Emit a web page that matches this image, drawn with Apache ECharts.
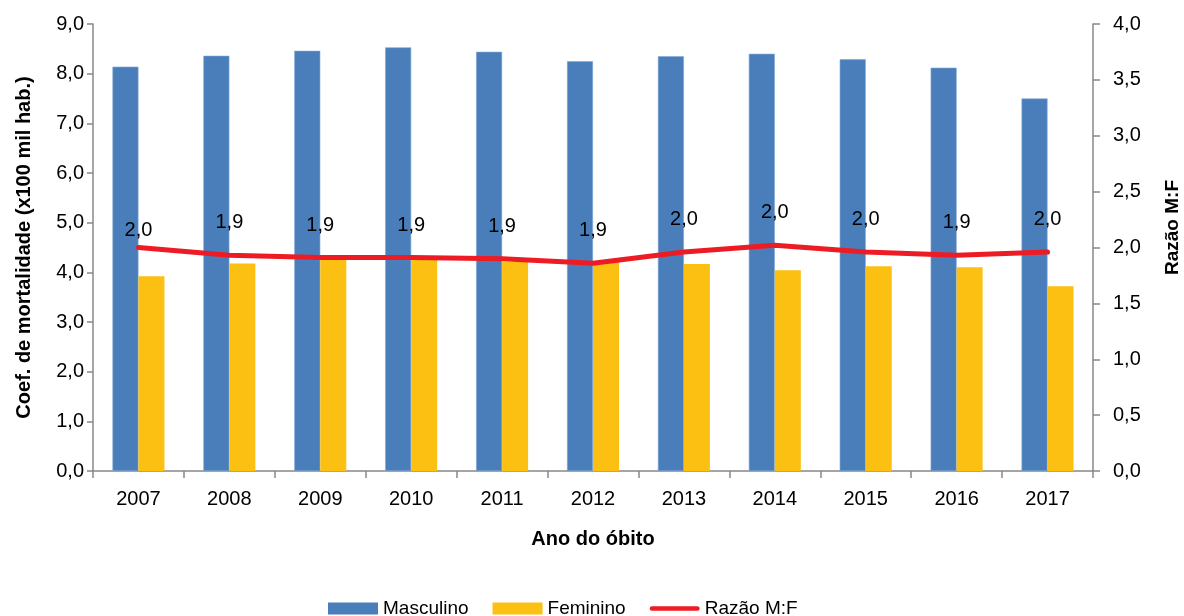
<!DOCTYPE html>
<html><head><meta charset="utf-8">
<script src="https://cdn.jsdelivr.net/npm/echarts@6/dist/echarts.min.js"></script>
<style>html,body{margin:0;padding:0;background:#fff}#c{width:1184px;height:616px}</style>
</head><body><div id="c"></div>
<script>
const anos = ['2007','2008','2009','2010','2011','2012','2013','2014','2015','2016','2017'];
const masculino = [8.14, 8.36, 8.46, 8.53, 8.44, 8.25, 8.35, 8.40, 8.29, 8.12, 7.50];
const feminino  = [3.92, 4.18, 4.28, 4.27, 4.21, 4.22, 4.17, 4.04, 4.12, 4.10, 3.72];
const razao     = [2.00, 1.93, 1.91, 1.91, 1.90, 1.86, 1.96, 2.02, 1.96, 1.93, 1.96];

const fmt = v => v.toFixed(1).replace('.', ',');
const FONT = 'Liberation Sans';
const AXIS = '#888888';
const chart = echarts.init(document.getElementById('c'));
chart.setOption({
  animation: false,
  textStyle: {fontFamily: FONT},
  grid: {left: 93, right: 91, top: 24, bottom: 145, containLabel: false, outerBoundsMode: 'none'},
  legend: {
    bottom: -2, left: 328, padding: 0, itemGap: 24, itemWidth: 50, itemHeight: 12,
    itemStyle: {borderWidth: 0},
    textStyle: {fontSize: 19, color: '#000', fontFamily: FONT},
    data: [
      {name: 'Masculino', icon: 'rect'},
      {name: 'Feminino', icon: 'rect'},
      {name: 'Razão M:F', icon: 'path://M2.5,0H50.5A2.5,2.5,0,0,1,50.5,5H2.5A2.5,2.5,0,0,1,2.5,0Z'}
    ]
  },
  xAxis: {
    type: 'category', data: anos,
    name: 'Ano do óbito', nameLocation: 'middle', nameGap: 58,
    nameTextStyle: {fontSize: 20, fontWeight: 'bold', color: '#000'},
    axisLine: {lineStyle: {color: AXIS, width: 1.5}},
    axisTick: {show: true, length: 7, lineStyle: {color: AXIS, width: 1.5}},
    axisLabel: {fontSize: 20, color: '#000', margin: 18}
  },
  yAxis: [{
    type: 'value', min: 0, max: 9, interval: 1,
    name: 'Coef. de mortalidade (x100 mil hab.)', nameLocation: 'middle', nameGap: 59,
    nameTextStyle: {fontSize: 20, fontWeight: 'bold', color: '#000'},
    axisLine: {show: true, lineStyle: {color: AXIS, width: 1.5}},
    axisTick: {show: true, length: 6, lineStyle: {color: AXIS, width: 1.5}},
    splitLine: {show: false},
    axisLabel: {fontSize: 20, color: '#000', margin: 9, formatter: fmt}
  }, {
    type: 'value', min: 0, max: 4, interval: 0.5, position: 'right',
    name: 'Razão M:F', nameLocation: 'middle', nameGap: 70, nameRotate: 90,
    nameTextStyle: {fontSize: 19, fontWeight: 'bold', color: '#000', padding: [0, 0, 0, 40]},
    axisLine: {show: true, lineStyle: {color: AXIS, width: 1.5}},
    axisTick: {show: true, length: 7, lineStyle: {color: AXIS, width: 1.5}},
    splitLine: {show: false},
    axisLabel: {fontSize: 20, color: '#000', margin: 20, formatter: fmt}
  }],
  series: [{
    name: 'Masculino', type: 'bar', data: masculino, barWidth: 26, barGap: '0%',
    itemStyle: {color: '#4A7EBB', borderColor: '#7FA6D4', borderWidth: 0.6}
  }, {
    name: 'Feminino', type: 'bar', data: feminino, barWidth: 26,
    itemStyle: {color: '#FBC012'}
  }, {
    name: 'Razão M:F', type: 'line', yAxisIndex: 1,
    data: razao.map((v, i) => i === 0 ? {value: v, label: {distance: 7}} : v),
    symbol: 'circle', symbolSize: 1, showSymbol: true,
    lineStyle: {color: '#ED1C24', width: 5, cap: 'round', join: 'round'},
    itemStyle: {color: '#ED1C24'},
    label: {show: true, position: 'top', distance: 22, fontSize: 20, color: '#000',
      formatter: p => fmt(p.value)},
    labelLayout: {hideOverlap: false}
  }]
});
</script></body></html>
